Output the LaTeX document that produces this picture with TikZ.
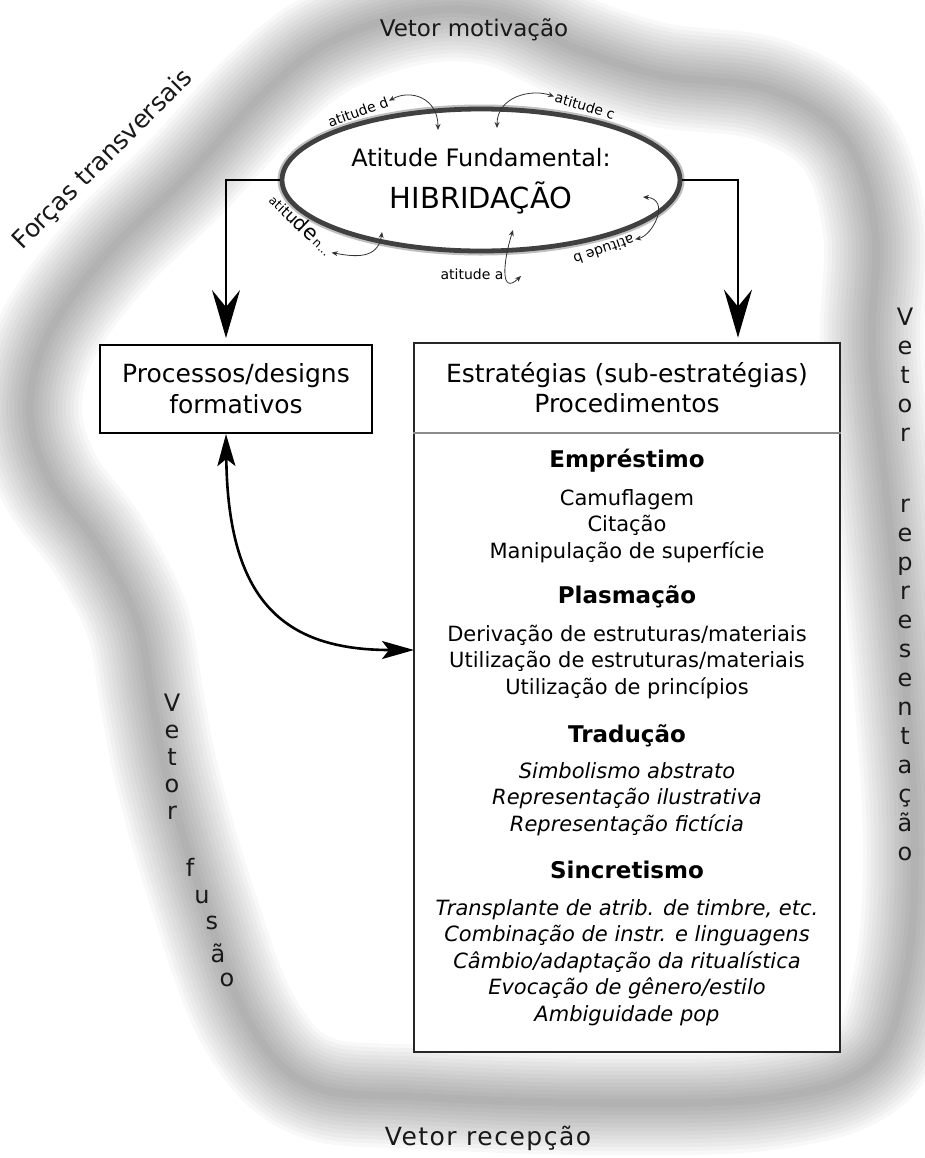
\documentclass[tikz,border=0pt]{standalone}
\usepackage{fontspec}
\setmainfont{DejaVu Sans}
\usetikzlibrary{positioning,shapes.geometric,arrows.meta}

% growing letters
\newcommand{\attsz}[2]{{\fontsize{#1}{#1}\selectfont #2}}

% blurred band around the whole scheme
\def\bandpath{plot[smooth cycle, tension=0.6] coordinates {(265,92) (330,42) (420,12) (500,15) (580,50) (660,75) (770,90) (845,138) (875,230) (872,350) (887,500) (905,680) (915,850) (905,980) (870,1065) (770,1098) (600,1103) (420,1097) (310,1085) (248,1020) (203,900) (168,780) (152,700) (137,620) (98,545) (50,480) (30,410) (48,335) (106,255) (185,178)}}

\begin{document}
\begin{tikzpicture}[x=0.5pt, y=-0.5pt,
    box/.style={draw, fill=white, line width=1pt, inner sep=0pt},
    bigarrow/.style={line width=1.15pt, -{Stealth[length=24pt,width=14pt,inset=8.5pt]}},
    dblarrow/.style={line width=1.3pt, {Stealth[length=16pt,width=9pt,inset=3.5pt]}-{Stealth[length=16pt,width=9pt,inset=3.5pt]}},
    attlbl/.style={inner sep=0.5pt, font=\fontsize{7}{8}\selectfont},
    attarrow/.style={line width=0.4pt, black!80, {Stealth[length=3pt,width=2.5pt]}-{Stealth[length=3pt,width=2.5pt]}},
    head/.style={anchor=base, font=\bfseries\fontsize{11.5}{14}\selectfont},
    item/.style={anchor=base, align=center, font=\fontsize{10.5}{13.25}\selectfont},
    itemit/.style={item, font=\itshape\fontsize{10.5}{13.25}\selectfont},
    vec/.style={inner sep=0pt, text=black!90, font=\fontsize{12}{14.5}\selectfont}]
  \useasboundingbox (0,0) rectangle (925,1158);

  % background band
  \foreach \w in {104,96,...,8}
    \draw[line width=\w*0.5pt, black, opacity=0.027, line join=round] \bandpath;

  % vectors
  \node (vmot) [vec, font=\fontsize{11.5}{14}\selectfont] at (474,30) {Vetor motivação};
  \node (forc) [vec, rotate=45, font=\fontsize{12.5}{15}\selectfont] at (103,160) {Forças transversais};
  \node (vrep) [vec, anchor=north, align=center] at (905,308)
    {V\\e\\t\\o\\r\\[21pt]r\\e\\p\\r\\e\\s\\e\\n\\t\\a\\ç\\ã\\o};
  \node (vfus) [vec, anchor=north, align=center, font=\fontsize{12}{13.5}\selectfont] at (172,694)
    {V\\e\\t\\o\\r};
  \foreach \ch/\px/\py [count=\i] in {f/190/867, u/202/897, s/212/923, ã/218/953, o/227/980}
    \node (fus\i) [vec] at (\px,\py) {\ch};
  \node (vrec) [vec, font=\fontsize{12.5}{15}\selectfont\addfontfeature{LetterSpace=6}] at (488,1138) {Vetor recepção};

  % fundamental attitude
  \node (hib) [ellipse, draw=black!75, line width=2.4pt, preaction={draw=black!25, line width=4.5pt},
    fill=white, minimum width=199pt, minimum height=71pt, inner sep=0pt] at (481,180) {};
  \node (hibtitle) [anchor=base, font=\fontsize{12}{14}\selectfont] at (481,166) {Atitude Fundamental:};
  \node (hibname) [anchor=base, font=\fontsize{14.5}{17}\selectfont] at (481,208) {HIBRIDAÇÃO};

  % attitudes
  \node (attd) [attlbl, rotate=20] at (358,112) {atitude d};
  \node (attc) [attlbl, rotate=-17] at (585,106) {atitude c};
  \node (attb) [attlbl, rotate=199] at (604,250) {atitude b};
  \node (atta) [attlbl] at (472,274) {atitude a};
  \node (attn) [attlbl, rotate=-44] at (302,224)
    {\attsz{6}{a}\attsz{6.5}{t}\attsz{7}{i}\attsz{7.5}{t}\attsz{8.5}{u}\attsz{10}{d}\attsz{10.5}{e}\attsz{6}{\,n...}};
  \coordinate (pd) at (438,130);
  \coordinate (pc) at (497,128);
  \coordinate (pb) at (643,197);
  \coordinate (pa) at (513,230);
  \coordinate (paend) at (521,276);
  \coordinate (pn) at (382,232);
  \draw[attarrow] (attd.east) .. controls +(22,-12) and +(0,-32) .. (pd);
  \draw[attarrow] (pc) .. controls +(0,-32) and +(-22,-8) .. (attc.west);
  \draw[attarrow] (pb) .. controls +(28,2) and +(18,-4) .. (attb.west);
  \draw[attarrow] (pa) .. controls (503,262) and (500,296) .. (paend);
  \draw[attarrow] (pn) .. controls +(-4,28) and +(22,4) .. (attn.east);

  % boxes
  \node (proc) [box, minimum width=136pt, minimum height=44pt, align=center,
    font=\fontsize{12.5}{15.5}\selectfont] at (236,389) {Processos/designs\\formativos};
  \node (strat) [box, draw=black!85, line width=1.4pt, minimum width=213pt, minimum height=354.5pt] at (627,697.5) {};
  \node (strathead) [item, font=\fontsize{12.5}{15}\selectfont] at (627,412) {Estratégias (sub-estratégias)\\Procedimentos};
  \coordinate (sep) at (627,433);
  \draw[black!45, line width=0.6pt] (strat.west |- sep) -- (strat.east |- sep);

  % base = last line
  \node (empr) [head] at (627,467) {Empréstimo};
  \node (emprit) [item] at (627,558) {Camuflagem\\Citação\\Manipulação de superfície};
  \node (plas) [head] at (627,603) {Plasmação};
  \node (plasit) [item] at (627,694) {Derivação de estruturas/materiais\\Utilização de estruturas/materiais\\Utilização de princípios};
  \node (trad) [head] at (627,742) {Tradução};
  \node (tradit) [itemit] at (627,831) {Simbolismo abstrato\\Representação ilustrativa\\Representação fictícia};
  \node (sinc) [head] at (627,878) {Sincretismo};
  \node (sincit) [itemit] at (627,1021) {Transplante de atrib. de timbre, etc.\\Combinação de instr. e linguagens\\Câmbio/adaptação da ritualística\\Evocação de gênero/estilo\\Ambiguidade pop};

  % connectors
  \draw[bigarrow, shorten >=3pt] (hib.west) -| ([xshift=-5pt]proc.north);
  \draw[bigarrow, shorten >=2pt] (hib.east) -| ([xshift=55.5pt]strat.north);
  \coordinate (dblend) at (414,650);
  \draw[dblarrow] ([xshift=-5pt]proc.south) .. controls +(2,165) and +(-132,0) .. (dblend);
\end{tikzpicture}
\end{document}
